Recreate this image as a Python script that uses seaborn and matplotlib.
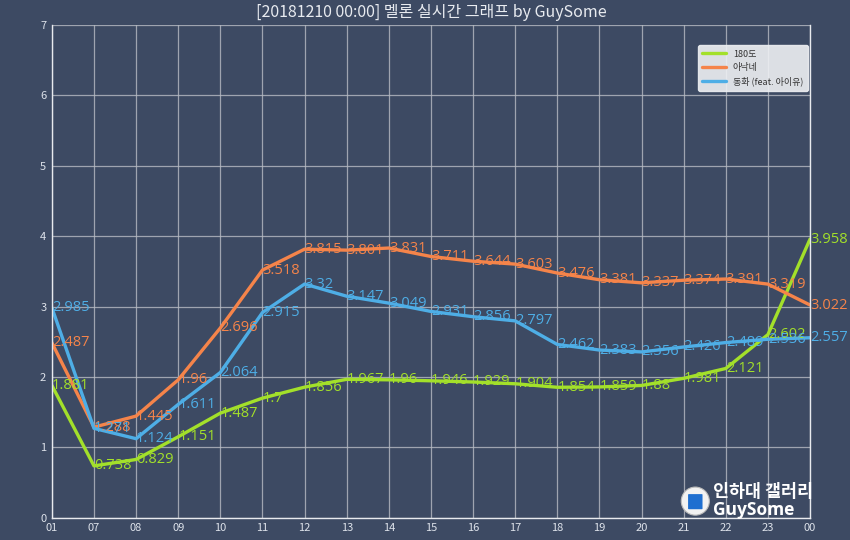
import numpy as np
import pandas as pd
import matplotlib.pyplot as plt
import matplotlib.patches as mpatches
import seaborn as sns

# DATA

hours = ["01", "07", "08", "09", "10", "11", "12", "13", "14", "15",
         "16", "17", "18", "19", "20", "21", "22", "23", "00"]
song_180 = [1.881, 0.738, 0.829, 1.151, 1.487, 1.7, 1.856, 1.967, 1.96, 1.946,
            1.929, 1.904, 1.854, 1.859, 1.88, 1.981, 2.121, 2.602, 3.958]
song_anakne = [2.487, 1.288, 1.445, 1.96, 2.696, 3.518, 3.815, 3.801, 3.831, 3.711,
               3.644, 3.603, 3.476, 3.381, 3.337, 3.374, 3.391, 3.319, 3.022]
song_donghwa = [2.985, 1.271, 1.124, 1.611, 2.064, 2.915, 3.32, 3.147, 3.049, 2.931,
                2.856, 2.797, 2.462, 2.383, 2.356, 2.426, 2.489, 2.536, 2.557]
names = ["180도", "아낙네", "동화 (feat. 아이유)"]
colors = ["#a3e02a", "#f5844a", "#4eaee6"]

bg = "#3d4a63"

sns.set_style("darkgrid")
plt.rcParams["font.family"] = ["Noto Sans CJK KR", "DejaVu Sans"]

frames = []
for name, vals in zip(names, [song_180, song_anakne, song_donghwa]):
    frames.append(pd.DataFrame({"x": np.arange(len(hours)), "y": vals, "song": name}))
df = pd.concat(frames, ignore_index=True)

fig = plt.figure(figsize=(8.5, 5.4), dpi=100, facecolor=bg)
ax = fig.add_axes([0.061, 0.041, 0.892, 0.913])
ax.set_facecolor(bg)

sns.lineplot(data=df, x="x", y="y", hue="song", palette=colors, hue_order=names,
             linewidth=2.4, sort=False, ax=ax)

# value labels, left of each point
for name, vals, c in zip(names, [song_180, song_anakne, song_donghwa], colors):
    for i, v in enumerate(vals):
        ax.text(i, v, f"{v:g}", color=c, fontsize=10.5, ha="left", va="center",
                family=["Open Sans", "DejaVu Sans"])

ax.set_xlim(0, len(hours) - 1)
ax.set_ylim(0, 7)
ax.set_xticks(np.arange(len(hours)))
ax.set_xticklabels(hours)
ax.set_yticks(range(0, 8))
ax.tick_params(colors="#dde2ea", labelsize=8, length=0, pad=4)
ax.grid(color="#b8bcc4", linewidth=0.9, alpha=0.8)
ax.set_xlabel("")
ax.set_ylabel("")
ax.spines["top"].set_visible(False)
for s in ["left", "bottom", "right"]:
    ax.spines[s].set_visible(True)
    ax.spines[s].set_color("#e8eaee")
    ax.spines[s].set_linewidth(1.0)

ax.set_title("[20181210 00:00] 멜론 실시간 그래프 by GuySome", color="#e8ebf0",
             fontsize=11.5, pad=6)

leg = ax.legend(loc="upper right", fontsize=6.5, frameon=True, facecolor="#eef0f3",
                edgecolor="#eef0f3", framealpha=0.9, handlelength=2.6,
                borderpad=0.5, labelspacing=0.5, bbox_to_anchor=(1.003, 0.968))
for t in leg.get_texts():
    t.set_color("#333333")

# watermark
logo = mpatches.Ellipse((0.818, 0.072), 0.033, 0.052, transform=fig.transFigure,
                        facecolor="#f2f2f2", edgecolor="#bbbbbb", lw=0.8, zorder=10)
fig.patches.append(logo)
inner = mpatches.FancyBboxPatch((0.8105, 0.058), 0.015, 0.026, transform=fig.transFigure,
                                boxstyle="round,pad=0.001", facecolor="#1f6fd0",
                                edgecolor="none", zorder=11)
fig.patches.append(inner)
fig.text(0.839, 0.088, "인하대 갤러리", color="white", fontsize=12.5,
         fontweight="bold", va="center", ha="left")
fig.text(0.839, 0.055, "GuySome", color="white", fontsize=12.5,
         fontweight="bold", va="center", ha="left", family=["Open Sans", "DejaVu Sans"])

fig.savefig("out.png", dpi=100, facecolor=bg)
